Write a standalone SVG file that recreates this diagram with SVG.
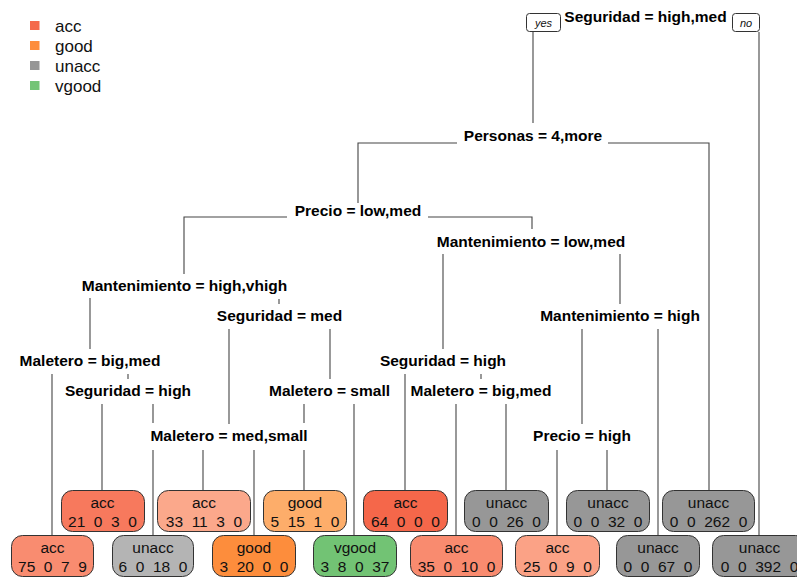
<svg xmlns="http://www.w3.org/2000/svg" width="797" height="577" viewBox="0 0 797 577">
<style>
.split{font-family:"Liberation Sans",Arial,sans-serif;font-size:15.5px;font-weight:bold;fill:#000;text-anchor:middle}
.lt{font-family:"Liberation Sans",Arial,sans-serif;font-size:15.5px;fill:#111;text-anchor:middle;white-space:pre}
.leg{font-family:"Liberation Sans",Arial,sans-serif;font-size:17px;fill:#111}
.yn{font-family:"Liberation Sans",Arial,sans-serif;font-size:11px;font-style:italic;fill:#111;text-anchor:middle}
.box{stroke:#333;stroke-width:1}
.ynb{fill:#fff;stroke:#333;stroke-width:1}
#connectors path{fill:none;stroke:#444;stroke-width:1.1}
</style>
<rect width="797" height="577" fill="#fff"/>
<g id="legend">
<rect x="30" y="21" width="9.5" height="9" fill="#F4694B"/>
<text class="leg" x="55" y="32">acc</text>
<rect x="30" y="41" width="9.5" height="9" fill="#FD8D3C"/>
<text class="leg" x="55" y="52">good</text>
<rect x="30" y="61" width="9.5" height="9" fill="#969696"/>
<text class="leg" x="55" y="72">unacc</text>
<rect x="30" y="81" width="9.5" height="9" fill="#74C476"/>
<text class="leg" x="55" y="92">vgood</text>
</g>
<g id="connectors">
<path d="M533 32V123"/>
<path d="M759 32V535"/>
<path d="M457 143H358V203"/>
<path d="M608 143H709V490"/>
<path d="M287 217H184V274"/>
<path d="M428 217H532V229"/>
<path d="M90 298V349"/>
<path d="M279 299V304"/>
<path d="M229 329V424"/>
<path d="M330 329V379"/>
<path d="M443 254V349"/>
<path d="M620 254V304"/>
<path d="M52 374V535"/>
<path d="M128 374V379"/>
<path d="M405 374V490"/>
<path d="M481 374V379"/>
<path d="M582 329V424"/>
<path d="M658 329V535"/>
<path d="M102 404V490"/>
<path d="M153 404V423M153 450V535"/>
<path d="M304 404V423M304 450V490"/>
<path d="M354 404V535"/>
<path d="M456 404V535"/>
<path d="M506 404V490"/>
<path d="M203 450V490"/>
<path d="M254 450V535"/>
<path d="M557 450V535"/>
<path d="M607 450V490"/>
</g>
<g id="n1">
<rect class="ynb" x="526.5" y="13.5" width="34" height="18" rx="3"/>
<text class="yn" x="543.5" y="27">yes</text>
<text class="split" x="645.5" y="22">Seguridad = high,med</text>
<rect class="ynb" x="732.5" y="13.5" width="27" height="18" rx="3"/>
<text class="yn" x="746" y="27">no</text>
</g>
<g id="n2"><text class="split" x="533" y="141">Personas = 4,more</text></g>
<g id="n4"><text class="split" x="358" y="216">Precio = low,med</text></g>
<g id="n5"><text class="split" x="531" y="247">Mantenimiento = low,med</text></g>
<g id="n8"><text class="split" x="184.5" y="291">Mantenimiento = high,vhigh</text></g>
<g id="n9"><text class="split" x="279.5" y="321">Seguridad = med</text></g>
<g id="n10"><text class="split" x="620" y="321">Mantenimiento = high</text></g>
<g id="n16"><text class="split" x="90" y="366">Maletero = big,med</text></g>
<g id="n18"><text class="split" x="443" y="366">Seguridad = high</text></g>
<g id="n17"><text class="split" x="128" y="396">Seguridad = high</text></g>
<g id="n19"><text class="split" x="329.5" y="396">Maletero = small</text></g>
<g id="n37"><text class="split" x="481" y="396">Maletero = big,med</text></g>
<g id="n38"><text class="split" x="229" y="441">Maletero = med,small</text></g>
<g id="n20"><text class="split" x="582" y="441">Precio = high</text></g>
<g id="leaf1"><rect class="box" x="61.5" y="490.5" width="83" height="41" rx="11" fill="#F7795D"/><text class="lt" x="102.5" y="508">acc</text><text class="lt" x="102.5" y="527">21  0  3  0</text></g>
<g id="leaf2"><rect class="box" x="157.5" y="490.5" width="93" height="41" rx="11" fill="#FBA88B"/><text class="lt" x="204" y="508">acc</text><text class="lt" x="204" y="527">33  11  3  0</text></g>
<g id="leaf3"><rect class="box" x="263.5" y="490.5" width="83" height="41" rx="11" fill="#FDAD6A"/><text class="lt" x="305" y="508">good</text><text class="lt" x="305" y="527">5  15  1  0</text></g>
<g id="leaf4"><rect class="box" x="363.5" y="490.5" width="84" height="41" rx="11" fill="#F5674A"/><text class="lt" x="405.5" y="508">acc</text><text class="lt" x="405.5" y="527">64  0  0  0</text></g>
<g id="leaf5"><rect class="box" x="464.5" y="490.5" width="84" height="41" rx="11" fill="#979797"/><text class="lt" x="506.5" y="508">unacc</text><text class="lt" x="506.5" y="527">0  0  26  0</text></g>
<g id="leaf6"><rect class="box" x="566.5" y="490.5" width="83" height="41" rx="11" fill="#979797"/><text class="lt" x="608" y="508">unacc</text><text class="lt" x="608" y="527">0  0  32  0</text></g>
<g id="leaf7"><rect class="box" x="662.5" y="490.5" width="92" height="41" rx="11" fill="#979797"/><text class="lt" x="708.5" y="508">unacc</text><text class="lt" x="708.5" y="527">0  0  262  0</text></g>
<g id="leaf8"><rect class="box" x="11.5" y="535.5" width="82" height="41" rx="11" fill="#F98C70"/><text class="lt" x="52.5" y="553">acc</text><text class="lt" x="52.5" y="572">75  0  7  9</text></g>
<g id="leaf9"><rect class="box" x="112.5" y="535.5" width="81" height="41" rx="11" fill="#B4B4B4"/><text class="lt" x="153" y="553">unacc</text><text class="lt" x="153" y="572">6  0  18  0</text></g>
<g id="leaf10"><rect class="box" x="212.5" y="535.5" width="83" height="41" rx="11" fill="#FD8D3C"/><text class="lt" x="254" y="553">good</text><text class="lt" x="254" y="572">3  20  0  0</text></g>
<g id="leaf11"><rect class="box" x="313.5" y="535.5" width="83" height="41" rx="11" fill="#72C374"/><text class="lt" x="355" y="553">vgood</text><text class="lt" x="355" y="572">3  8  0  37</text></g>
<g id="leaf12"><rect class="box" x="410.5" y="535.5" width="92" height="41" rx="11" fill="#F98B6F"/><text class="lt" x="456.5" y="553">acc</text><text class="lt" x="456.5" y="572">35  0  10  0</text></g>
<g id="leaf13"><rect class="box" x="515.5" y="535.5" width="84" height="41" rx="11" fill="#FBA286"/><text class="lt" x="557.5" y="553">acc</text><text class="lt" x="557.5" y="572">25  0  9  0</text></g>
<g id="leaf14"><rect class="box" x="616.5" y="535.5" width="83" height="41" rx="11" fill="#979797"/><text class="lt" x="658" y="553">unacc</text><text class="lt" x="658" y="572">0  0  67  0</text></g>
<g id="leaf15"><rect class="box" x="712.5" y="535.5" width="94" height="41" rx="11" fill="#979797"/><text class="lt" x="759.5" y="553">unacc</text><text class="lt" x="759.5" y="572">0  0  392  0</text></g>
</svg>
